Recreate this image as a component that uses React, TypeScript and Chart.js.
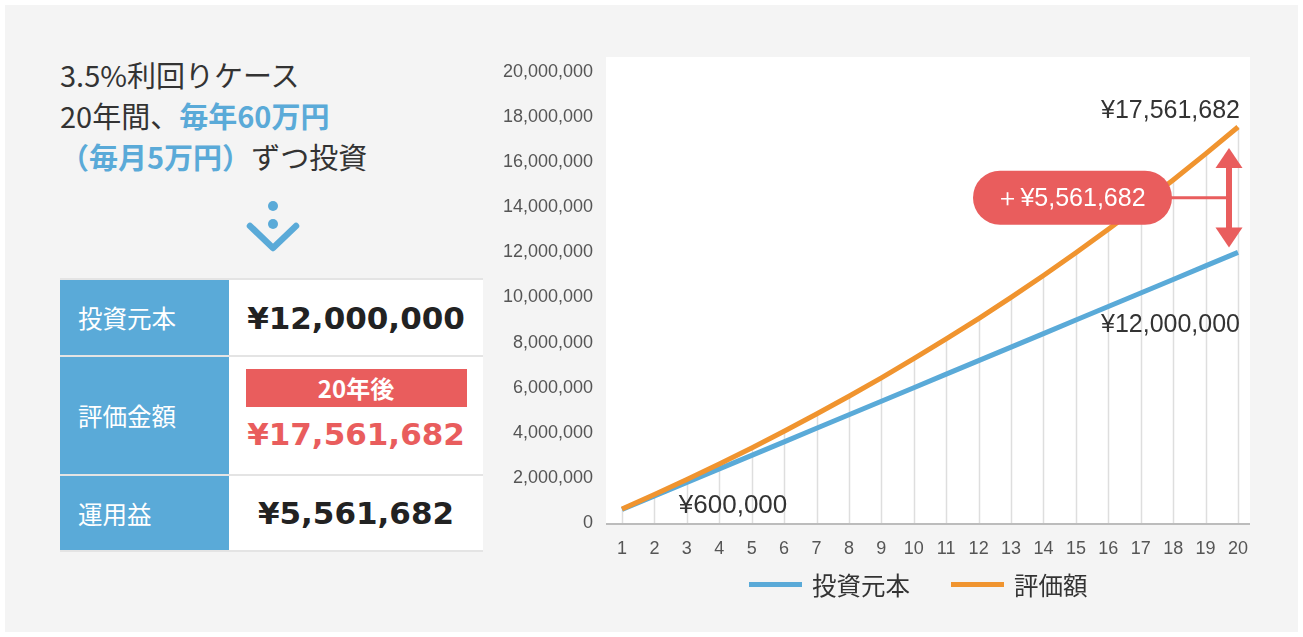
import React, { useEffect, useRef } from 'react';
import { Chart, registerables } from 'chart.js';

Chart.register(...registerables);

// ---- data ----
const years = ['1', '2', '3', '4', '5', '6', '7', '8', '9', '10', '11', '12', '13', '14', '15', '16', '17', '18', '19', '20'];
const principal = [600000, 1200000, 1800000, 2400000, 3000000, 3600000, 4200000, 4800000, 5400000, 6000000, 6600000, 7200000, 7800000, 8400000, 9000000, 9600000, 10200000, 10800000, 11400000, 12000000];
const valuation = [621000, 1263735, 1928966, 2617479, 3330091, 4067644, 4831011, 5621097, 6438836, 7285195, 8161177, 9067818, 10006192, 10977409, 11982618, 13023010, 14099815, 15214309, 16367809, 17561682];
const seriesNames = ['投資元本', '評価額'];
const yMin = 0;
const yMax = 20000000;
const yStep = 2000000;
const labelFinalValue = '¥17,561,682';
const labelFinalPrincipal = '¥12,000,000';
const labelFirstYear = '¥600,000';
const labelGain = '＋¥5,561,682';

const BLUE = '#5aaad8';
const ORANGE = '#f0942f';
const RED = '#e95d5d';
const TEXT = '#333333';
const NUM_FONT = "'Liberation Sans', Arial, sans-serif";
const JP_FONT = "'Noto Sans CJK JP', sans-serif";

const fmt = (v: number) => v.toLocaleString('en-US');

const decorPlugin = {
  id: 'decor',
  beforeDraw(chart: any) {
    const { ctx, chartArea: a } = chart;
    ctx.save();
    ctx.fillStyle = '#ffffff';
    ctx.fillRect(a.left - 16, a.top - 15, a.right - a.left + 28, a.bottom - a.top + 15);
    ctx.restore();
  },
  beforeDatasetsDraw(chart: any) {
    const { ctx, chartArea: a } = chart;
    const meta = chart.getDatasetMeta(1);
    ctx.save();
    ctx.strokeStyle = '#dedede';
    ctx.lineWidth = 1.5;
    ctx.beginPath();
    meta.data.forEach((p: any) => {
      ctx.moveTo(Math.round(p.x) + 0.5, p.y);
      ctx.lineTo(Math.round(p.x) + 0.5, a.bottom);
    });
    ctx.stroke();
    ctx.strokeStyle = '#bcbcbc';
    ctx.lineWidth = 2;
    ctx.beginPath();
    ctx.moveTo(a.left - 16, a.bottom + 1);
    ctx.lineTo(a.right + 12, a.bottom + 1);
    ctx.stroke();
    ctx.restore();
  },
  afterDatasetsDraw(chart: any) {
    const { ctx } = chart;
    const pMeta = chart.getDatasetMeta(0).data;
    const vMeta = chart.getDatasetMeta(1).data;
    const n = vMeta.length - 1;
    const vLast = vMeta[n];
    const pLast = pMeta[n];
    ctx.save();
    ctx.fillStyle = TEXT;
    ctx.font = `25px ${NUM_FONT}`;
    ctx.textBaseline = 'middle';
    ctx.textAlign = 'right';
    ctx.fillText(labelFinalValue, vLast.x + 2, vLast.y - 16);
    ctx.fillText(labelFinalPrincipal, pLast.x + 2, pLast.y + 73);
    ctx.textAlign = 'left';
    ctx.font = `26px ${NUM_FONT}`;
    const p3 = pMeta[2];
    ctx.fillText(labelFirstYear, p3.x - 8, chart.chartArea.bottom - 17);

    // double arrow
    const ax = vLast.x - 9;
    const top = vLast.y + 21;
    const bot = pLast.y - 5;
    const mid = (top + bot) / 2;
    ctx.fillStyle = RED;
    ctx.strokeStyle = RED;
    ctx.lineWidth = 6;
    ctx.beginPath();
    ctx.moveTo(ax, top + 15);
    ctx.lineTo(ax, bot - 15);
    ctx.stroke();
    ctx.beginPath();
    ctx.moveTo(ax, top);
    ctx.lineTo(ax + 13.5, top + 20);
    ctx.lineTo(ax - 13.5, top + 20);
    ctx.closePath();
    ctx.fill();
    ctx.beginPath();
    ctx.moveTo(ax, bot);
    ctx.lineTo(ax + 13.5, bot - 20);
    ctx.lineTo(ax - 13.5, bot - 20);
    ctx.closePath();
    ctx.fill();
    // connector
    const bw = 199;
    const bh = 54;
    const bRight = ax - 57;
    const bLeft = bRight - bw;
    const by = mid;
    ctx.lineWidth = 3;
    ctx.beginPath();
    ctx.moveTo(bRight - 5, by);
    ctx.lineTo(ax, by);
    ctx.stroke();
    // pill
    const r = bh / 2;
    ctx.beginPath();
    ctx.moveTo(bLeft + r, by - r);
    ctx.lineTo(bRight - r, by - r);
    ctx.arc(bRight - r, by, r, -Math.PI / 2, Math.PI / 2);
    ctx.lineTo(bLeft + r, by + r);
    ctx.arc(bLeft + r, by, r, Math.PI / 2, Math.PI * 1.5);
    ctx.closePath();
    ctx.fill();
    ctx.fillStyle = '#ffffff';
    ctx.textAlign = 'center';
    ctx.font = `25px ${NUM_FONT}`;
    ctx.fillText(labelGain, (bLeft + bRight) / 2 - 2, by + 1);
    ctx.restore();
  },
};

function LineChart() {
  const ref = useRef<HTMLCanvasElement | null>(null);
  useEffect(() => {
    if (!ref.current) return;
    const chart = new Chart(ref.current, {
      type: 'line',
      data: {
        labels: years,
        datasets: [
          {
            label: seriesNames[0],
            data: principal,
            borderColor: BLUE,
            backgroundColor: BLUE,
            borderWidth: 5,
            pointRadius: 0,
            tension: 0,
            order: 1,
          },
          {
            label: seriesNames[1],
            data: valuation,
            borderColor: ORANGE,
            backgroundColor: ORANGE,
            borderWidth: 5,
            pointRadius: 0,
            tension: 0,
            order: 0,
          },
        ],
      },
      options: {
        responsive: false,
        animation: false,
        layout: { padding: { top: 32, right: 42, left: 0, bottom: 0 } },
        plugins: { legend: { display: false }, tooltip: { enabled: false } },
        scales: {
          x: {
            grid: { display: false, drawTicks: true, tickLength: 12 },
            border: { display: false },
            ticks: {
              color: '#555555',
              font: { family: NUM_FONT, size: 18 },
              padding: 3,
              autoSkip: false,
              maxRotation: 0,
            },
            afterFit: (s: any) => {
              s.height = 87;
            },
          },
          y: {
            min: yMin,
            max: yMax,
            grid: { display: false, drawTicks: true, tickLength: 26 },
            border: { display: false },
            ticks: {
              stepSize: yStep,
              color: '#555555',
              font: { family: NUM_FONT, size: 18 },
              padding: 3,
              callback: (v: any) => fmt(Number(v)),
            },
            afterFit: (s: any) => {
              s.width = 122;
            },
          },
        },
      },
      plugins: [decorPlugin],
    } as any);
    return () => chart.destroy();
  }, []);
  return <canvas ref={ref} width={780} height={570} style={{ position: 'absolute', left: 500, top: 40 }} />;
}

const abs = (s: React.CSSProperties): React.CSSProperties => ({ position: 'absolute', ...s });

export default function App() {
  const labelCell: React.CSSProperties = {
    position: 'absolute',
    left: 0,
    width: 169,
    background: BLUE,
    color: '#fff',
    fontSize: 24.5,
    display: 'flex',
    alignItems: 'center',
    paddingLeft: 18,
    boxSizing: 'border-box',
    fontFamily: JP_FONT,
  };
  const valueCell: React.CSSProperties = {
    position: 'absolute',
    left: 169,
    width: 254,
    background: '#fff',
    display: 'flex',
    flexDirection: 'column',
    alignItems: 'center',
    justifyContent: 'center',
  };
  const bigNum: React.CSSProperties = {
    fontFamily: "'DejaVu Sans', sans-serif",
    fontWeight: 'bold',
    fontSize: 31,
    color: '#222',
    lineHeight: '34px',
  };
  return (
    <div style={abs({ left: 0, top: 0, width: 1303, height: 637, background: '#fff', fontFamily: JP_FONT, color: TEXT })}>
      <div style={abs({ left: 5, top: 5, width: 1293, height: 627, background: '#f4f4f4' })} />
      <div style={abs({ left: 60, top: 54, fontSize: 29, lineHeight: '41px', whiteSpace: 'nowrap' })}>
        <div>3.5%利回りケース</div>
        <div>
          20年間、<span style={{ color: BLUE, fontWeight: 'bold' }}>毎年60万円</span>
        </div>
        <div>
          <span style={{ color: BLUE, fontWeight: 'bold' }}>（毎月5万円）</span>ずつ投資
        </div>
      </div>
      <svg style={abs({ left: 240, top: 195 })} width={66} height={64}>
        <circle cx={33} cy={11} r={5} fill={BLUE} />
        <circle cx={33} cy={29} r={5} fill={BLUE} />
        <polyline points="10,31 33,53 56,31" fill="none" stroke={BLUE} strokeWidth={6.5} strokeLinecap="round" strokeLinejoin="round" />
      </svg>
      <div style={abs({ left: 60, top: 278, width: 423, height: 274, background: '#e4e4e4' })}>
        <div style={{ ...labelCell, top: 2, height: 75 }}>投資元本</div>
        <div style={{ ...valueCell, top: 2, height: 75 }}>
          <div style={bigNum}>¥12,000,000</div>
        </div>
        <div style={{ ...labelCell, top: 79, height: 117 }}>評価金額</div>
        <div style={{ ...valueCell, top: 79, height: 117, justifyContent: 'flex-start' }}>
          <div
            style={{
              marginTop: 12,
              width: 221,
              height: 38,
              background: RED,
              color: '#fff',
              fontWeight: 'bold',
              fontSize: 24,
              lineHeight: '38px',
              textAlign: 'center',
            }}
          >
            20年後
          </div>
          <div style={{ ...bigNum, color: RED, marginTop: 10 }}>¥17,561,682</div>
        </div>
        <div style={{ ...labelCell, top: 198, height: 74 }}>運用益</div>
        <div style={{ ...valueCell, top: 198, height: 74 }}>
          <div style={bigNum}>¥5,561,682</div>
        </div>
      </div>
      <LineChart />
      <div style={abs({ left: 749, top: 569, height: 30, display: 'flex', alignItems: 'center', fontSize: 24.5, whiteSpace: 'nowrap' })}>
        <span style={{ display: 'inline-block', width: 53, height: 5, background: BLUE }} />
        <span style={{ marginLeft: 10 }}>{seriesNames[0]}</span>
        <span style={{ display: 'inline-block', width: 53, height: 5, background: ORANGE, marginLeft: 41 }} />
        <span style={{ marginLeft: 10 }}>{seriesNames[1]}</span>
      </div>
    </div>
  );
}
